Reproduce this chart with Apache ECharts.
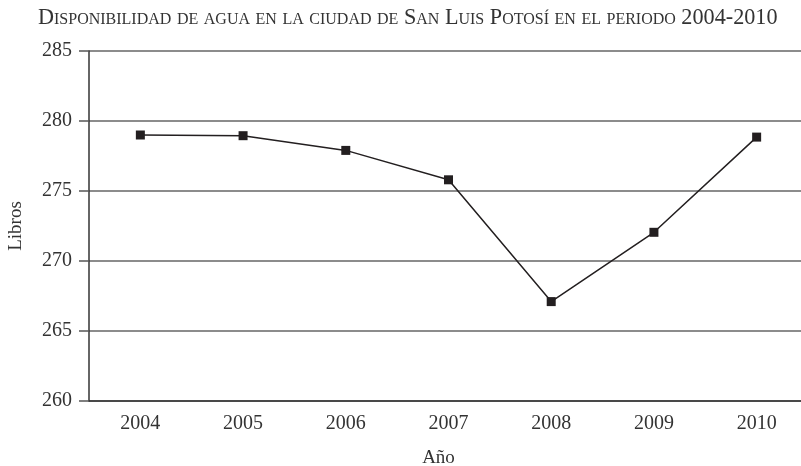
<!DOCTYPE html>
<html>
<head>
<meta charset="utf-8">
<script src="https://cdn.jsdelivr.net/npm/echarts@6/dist/echarts.min.js"></script>
<style>
  html, body { margin: 0; padding: 0; background: #fff; }
  #chart { width: 801px; height: 466px; }
</style>
</head>
<body>
<div id="chart"></div>
<script>
var years = ['2004', '2005', '2006', '2007', '2008', '2009', '2010'];
var libros = [279.0, 278.95, 277.9, 275.8, 267.1, 272.05, 278.85];
var yMin = 260, yMax = 285, yStep = 5;

var chart = echarts.init(document.getElementById('chart'));
var serif = 'Liberation Serif';

var option = {
    animation: false,
    title: {
        text: 'Disponibilidad de agua en la ciudad de San Luis Potosí en el periodo 2004-2010',
        left: 33,
        top: 2,
        textStyle: {
            fontFamily: serif,
            fontStyle: 'small-caps',
            fontWeight: 'normal',
            fontSize: 22.2,
            color: '#333'
        }
    },
    grid: {
        left: 89,
        top: 51,
        width: 719,
        height: 350,
        outerBoundsMode: 'none'
    },
    xAxis: {
        type: 'category',
        data: years,
        name: 'Año',
        nameLocation: 'middle',
        nameGap: 48,
        nameTextStyle: { fontFamily: serif, fontSize: 19, color: '#333', padding: [0, 20, 0, 0] },
        axisLine: { lineStyle: { color: '#333', width: 1.5 } },
        axisTick: { length: 7, lineStyle: { color: '#555', width: 1.5 } },
        axisLabel: { fontFamily: serif, fontSize: 20, color: '#333', margin: 13 }
    },
    yAxis: {
        type: 'value',
        min: yMin,
        max: yMax,
        interval: yStep,
        name: 'Libros',
        nameLocation: 'middle',
        nameGap: 63,
        nameTextStyle: { fontFamily: serif, fontSize: 19, color: '#333' },
        axisLine: { show: true, lineStyle: { color: '#333', width: 1.5 } },
        axisTick: { show: true, length: 10, lineStyle: { color: '#555', width: 1.5 } },
        axisLabel: { fontFamily: serif, fontSize: 20, color: '#333', margin: 17 },
        splitLine: { lineStyle: { color: '#666', width: 1.5 } }
    },
    series: [{
        type: 'line',
        data: libros,
        symbol: 'rect',
        symbolSize: 9,
        itemStyle: { color: '#231f20' },
        lineStyle: { color: '#231f20', width: 1.5 }
    }]
};
chart.setOption(option);
</script>
</body>
</html>
